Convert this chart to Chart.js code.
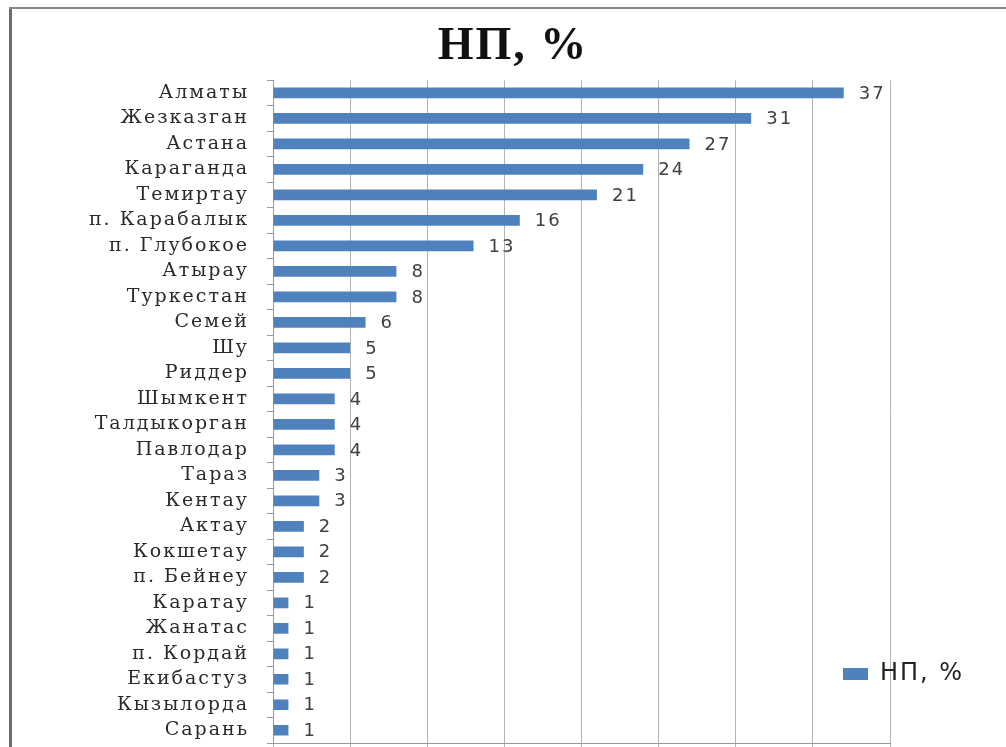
<!DOCTYPE html>
<html lang="ru">
<head>
<meta charset="utf-8">
<title>НП, %</title>
<script src="https://cdn.jsdelivr.net/npm/chart.js@4/dist/chart.umd.min.js"></script>
<style>
  html, body { margin: 0; padding: 0; background: #fff; overflow: hidden; }
  #wrap { position: relative; width: 100%; height: 747px; overflow: hidden; }
  .edge { position: absolute; pointer-events: none; }
  #edgeLeft { left: 9px; top: 7px; width: 3px; height: 760px; background: #6b6b6b; }
  #edgeTop { left: 9px; top: 7px; width: 1100px; height: 2px; background: #8a8a8a; }
  canvas { position: absolute; left: 0; top: 0; }
</style>
</head>
<body>
<div id="wrap">
  <canvas id="chart" width="1006" height="817"></canvas>
  <div class="edge" id="edgeLeft"></div>
  <div class="edge" id="edgeTop"></div>
</div>
<script>
const cities = [
  "Алматы", "Жезказган", "Астана", "Караганда", "Темиртау", "п. Карабалык",
  "п. Глубокое", "Атырау", "Туркестан", "Семей", "Шу", "Риддер",
  "Шымкент", "Талдыкорган", "Павлодар", "Тараз", "Кентау", "Актау",
  "Кокшетау", "п. Бейнеу", "Каратау", "Жанатас", "п. Кордай", "Екибастуз",
  "Кызылорда", "Сарань"
];
const values = [37, 31, 27, 24, 21, 16, 13, 8, 8, 6, 5, 5, 4, 4, 4, 3, 3, 2, 2, 2, 1, 1, 1, 1, 1, 1];
const seriesName = "НП, %";
const xMin = 0;
const xMax = 40;
const xStep = 5;

const barColour = "#4F81BD";

// bar values written just past the end of each bar
const valueLabels = {
  id: "valueLabels",
  afterDatasetsDraw(chart) {
    const ctx = chart.ctx;
    const meta = chart.getDatasetMeta(0);
    ctx.save();
    ctx.font = "18px 'DejaVu Sans'";
    ctx.fillStyle = "#404040";
    ctx.textAlign = "left";
    ctx.textBaseline = "middle";
    meta.data.forEach((bar, i) => {
      ctx.fillText(String(values[i]), bar.x + 15, bar.y + 1);
    });
    ctx.restore();
  }
};

// legend sits over the plot, lower right, and the title is centred on the page
const placeBoxes = {
  id: "placeBoxes",
  afterLayout(chart) {
    const lg = chart.legend;
    if (lg) {
      const w = lg.width, h = lg.height;
      lg.left = 833;
      lg.top = 652;
      lg.right = lg.left + w;
      lg.bottom = lg.top + h;
    }
    const tb = chart.titleBlock;
    if (tb) {
      tb.left = 0;
      tb.right = 1026;
      tb.width = 1026;
    }
  },
  beforeDraw(chart) {
    chart.ctx.letterSpacing = "2px";
  }
};

new Chart(document.getElementById("chart"), {
  type: "bar",
  data: {
    labels: cities,
    datasets: [{
      label: seriesName,
      data: values,
      backgroundColor: barColour,
      borderWidth: 0,
      barPercentage: 0.42,
      categoryPercentage: 1
    }]
  },
  options: {
    indexAxis: "y",
    responsive: false,
    animation: false,
    layout: { padding: { top: 20, right: 116, left: 0, bottom: 0 } },
    plugins: {
      title: {
        display: true,
        text: seriesName,
        color: "#111",
        font: { family: "'Liberation Serif'", size: 46, weight: "bold" },
        padding: { top: 0, bottom: 5 }
      },
      legend: {
        position: "bottom",
        align: "start",
        labels: {
          boxWidth: 25,
          boxHeight: 12,
          color: "#222",
          font: { family: "'DejaVu Sans'", size: 24 }
        }
      },
      tooltip: { enabled: false }
    },
    scales: {
      x: {
        min: xMin,
        max: xMax,
        ticks: { stepSize: xStep, color: "#404040", font: { family: "'DejaVu Sans'", size: 16 } },
        grid: { color: "#b4b4b4", lineWidth: 1 },
        border: { color: "#999" },
        afterFit(scale) { scale.height = 30; }
      },
      y: {
        ticks: {
          color: "#2a2a2a",
          padding: 18,
          autoSkip: false,
          font: { family: "'DejaVu Serif'", size: 19 }
        },
        grid: { drawOnChartArea: false, tickLength: 6, color: "#999" },
        border: { color: "#999" },
        afterFit(scale) { scale.width = 273; }
      }
    }
  },
  plugins: [valueLabels, placeBoxes]
});
</script>
</body>
</html>
